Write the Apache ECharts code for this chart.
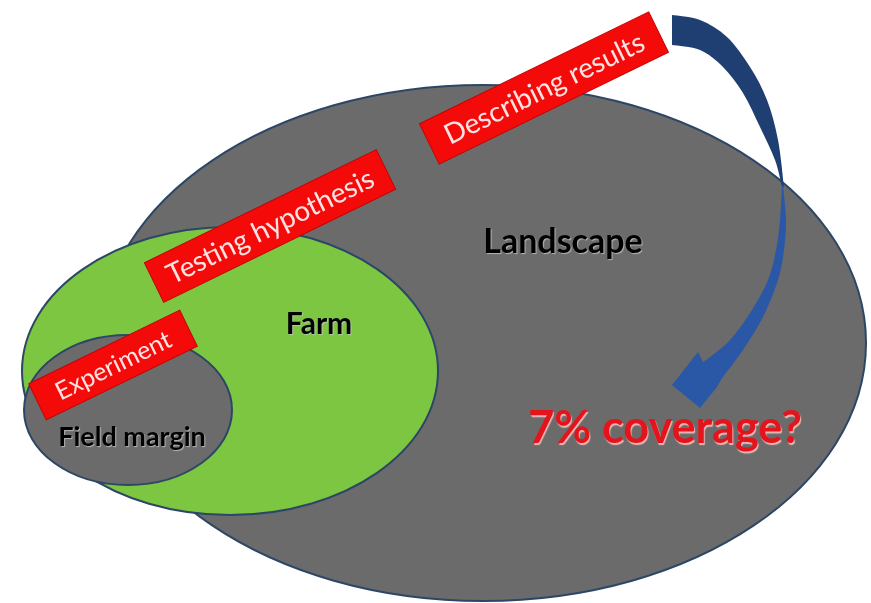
<!DOCTYPE html>
<html>
<head>
<meta charset="utf-8">
<script src="https://cdn.jsdelivr.net/npm/echarts@6/dist/echarts.min.js"></script>
<style>
  html, body { margin: 0; padding: 0; background: #fff; }
  #chart { width: 871px; height: 603px; }
</style>
</head>
<body>
<div id="chart"></div>
<script>
// nested regions, in picture units (x right, y down)
const regions = ['Landscape', 'Farm', 'Field margin']
const regionCx = [483, 230, 128]
const regionCy = [343, 371, 410]
const regionRx = [383, 208, 104]
const regionRy = [258, 144, 75]
const labelX = [563, 319, 132]
const labelY = [242, 324, 437]

// research stages (red tags)
const stages = ['Experiment', 'Testing hypothesis', 'Describing results']
const stageX = [113, 270, 544]
const stageY = [365, 226, 88]

// the question
const question = '7% coverage?'
const questionX = [665]
const questionY = [428]

// curved arrow: dark tail part (outer edge, then inner edge back)
const tailOuter = [[672, 15], [700, 20], [727, 37], [750, 67], [767, 100], [778, 140], [784, 187]]
const tailInner = [[782, 187], [775, 160], [760, 127], [743, 93], [723, 67], [700, 50], [672, 45]]
// light part with the head
const headOuter = [[783, 185], [786, 220], [784, 250], [778, 280], [763, 317], [743, 350], [723, 377], [717, 387]]
const headTip = [[700, 408], [672, 385], [698, 352], [703, 362]]
const headInner = [[703, 362], [710, 357], [730, 340], [750, 313], [768, 280], [776, 250], [780, 220], [782, 185]]

const fillColors = ['#6b6b6b', '#7cc641', '#6b6b6b']
const font = 'Lato, "Open Sans", sans-serif'

const chart = echarts.init(document.getElementById('chart'))

// smooth curve through points (Catmull-Rom to cubic Bezier)
function curve(pts) {
  let d = ''
  for (let i = 0; i < pts.length - 1; i++) {
    const p0 = pts[i - 1] || pts[i]
    const p1 = pts[i]
    const p2 = pts[i + 1]
    const p3 = pts[i + 2] || p2
    const c1 = [p1[0] + (p2[0] - p0[0]) / 6, p1[1] + (p2[1] - p0[1]) / 6]
    const c2 = [p2[0] - (p3[0] - p1[0]) / 6, p2[1] - (p3[1] - p1[1]) / 6]
    d += ' C' + c1.join(',') + ' ' + c2.join(',') + ' ' + p2.join(',')
  }
  return d
}

function arrowItem(parts, color) {
  return function(params, api) {
    let d = ''
    parts.forEach((part, k) => {
      const pts = part.pts.map(p => api.coord(p))
      d += (k === 0 ? 'M' : ' L') + pts[0].join(',')
      if (part.smooth) d += curve(pts)
      else pts.slice(1).forEach(p => { d += ' L' + p.join(',') })
    })
    d += ' Z'
    return {
      type: 'path',
      shape: { pathData: d },
      style: { fill: color }
    }
  }
}

chart.setOption({
  animation: false,
  backgroundColor: '#fff',
  grid: { left: 0, right: 0, top: 0, bottom: 0 },
  xAxis: { type: 'value', min: 0, max: 871, show: false },
  yAxis: { type: 'value', min: 0, max: 603, inverse: true, show: false },
  series: [
    {
      type: 'custom',
      data: regions.map((r, i) => [regionCx[i], regionCy[i], regionRx[i], regionRy[i]]),
      renderItem(params, api) {
        const c = api.coord([api.value(0), api.value(1)])
        const s = api.size([api.value(2), api.value(3)])
        return {
          type: 'ellipse',
          shape: { cx: c[0], cy: c[1], rx: s[0], ry: s[1] },
          style: { fill: fillColors[params.dataIndex], stroke: '#2c4766', lineWidth: 2 }
        }
      }
    },
    {
      type: 'custom',
      data: regions.map((r, i) => [labelX[i], labelY[i]]),
      renderItem(params, api) {
        const c = api.coord([api.value(0), api.value(1)])
        const sizes = [34, 30, 27]
        return {
          type: 'text',
          style: {
            text: regions[params.dataIndex],
            x: c[0], y: c[1],
            align: 'center', verticalAlign: 'middle',
            font: 'bold ' + sizes[params.dataIndex] + 'px ' + font,
            fill: '#000',
            textShadowColor: 'rgba(200,200,200,0.8)',
            textShadowOffsetX: 1, textShadowOffsetY: 1, textShadowBlur: 1
          }
        }
      }
    },
    {
      type: 'custom',
      data: stages.map((s, i) => [stageX[i], stageY[i]]),
      renderItem(params, api) {
        const c = api.coord([api.value(0), api.value(1)])
        const w = [168, 258, 255][params.dataIndex]
        const h = [40, 44, 45][params.dataIndex]
        const fs = [25, 28, 28][params.dataIndex]
        return {
          type: 'group',
          x: c[0], y: c[1],
          rotation: 26 * Math.PI / 180,
          children: [
            {
              type: 'rect',
              shape: { x: -w / 2, y: -h / 2, width: w, height: h },
              style: { fill: '#f50a0a', stroke: '#c80000', lineWidth: 1 }
            },
            {
              type: 'text',
              style: {
                text: stages[params.dataIndex],
                x: 0, y: 1,
                align: 'center', verticalAlign: 'middle',
                font: fs + 'px ' + font,
                fill: '#fde2e2'
              }
            }
          ]
        }
      }
    },
    {
      type: 'custom',
      data: [[questionX[0], questionY[0]]],
      renderItem(params, api) {
        const c = api.coord([api.value(0), api.value(1)])
        return {
          type: 'text',
          style: {
            text: question,
            x: c[0], y: c[1],
            align: 'center', verticalAlign: 'middle',
            font: 'bold 45px ' + font,
            fill: '#e3141b',
            textShadowColor: 'rgba(255,190,190,0.9)',
            textShadowOffsetX: 1, textShadowOffsetY: 2, textShadowBlur: 1
          }
        }
      }
    },
    {
      type: 'custom',
      data: [[0, 0]],
      renderItem: arrowItem([
        { pts: tailOuter, smooth: true },
        { pts: tailInner, smooth: true }
      ], '#1f3e72')
    },
    {
      type: 'custom',
      data: [[0, 0]],
      renderItem: arrowItem([
        { pts: headOuter, smooth: true },
        { pts: headTip, smooth: false },
        { pts: headInner, smooth: true }
      ], '#2b58a6')
    }
  ]
})
</script>
</body>
</html>
